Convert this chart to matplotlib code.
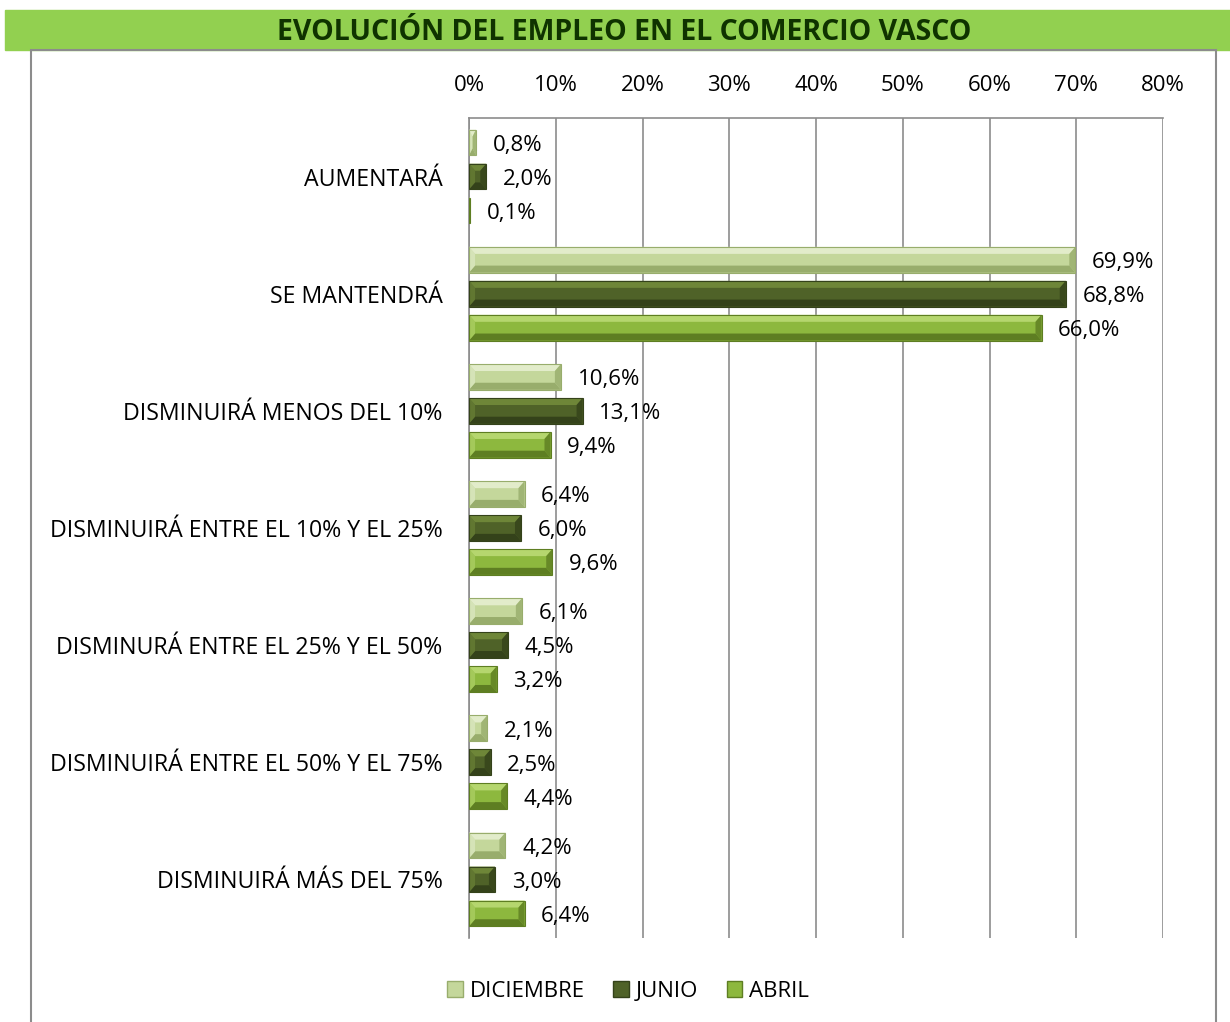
import matplotlib.pyplot as plt
from matplotlib.patches import Rectangle, Polygon
import numpy as np

plt.rcParams['font.family'] = ['Open Sans', 'DejaVu Sans']

categories = ["AUMENTARÁ", "SE MANTENDRÁ", "DISMINUIRÁ MENOS DEL 10%",
              "DISMINUIRÁ ENTRE EL 10% Y EL 25%", "DISMINURÁ ENTRE EL 25% Y EL 50%",
              "DISMINUIRÁ ENTRE EL 50% Y EL 75%", "DISMINUIRÁ MÁS DEL 75%"]
series = ["DICIEMBRE", "JUNIO", "ABRIL"]
diciembre = [0.8, 69.9, 10.6, 6.4, 6.1, 2.1, 4.2]
junio = [2.0, 68.8, 13.1, 6.0, 4.5, 2.5, 3.0]
abril = [0.1, 66.0, 9.4, 9.6, 3.2, 4.4, 6.4]

# face, light (top/left), dark (bottom/right)
colors = {
    "DICIEMBRE": ("#c4d79b", "#e2ecca", "#98ad6c"),
    "JUNIO": ("#4f6228", "#6e8638", "#34421a"),
    "ABRIL": ("#8db83e", "#b5d66e", "#5e7e22"),
}

fig = plt.figure(figsize=(12.3, 10.22), dpi=100)

# title band and outer box
fig.patches.append(Rectangle((5 / 1230, 1 - 50 / 1022), 1225 / 1230, 40 / 1022,
                             transform=fig.transFigure, color="#92d050", zorder=0))
fig.patches.append(Rectangle((31 / 1230, -0.01), (1216 - 31) / 1230, 1 - 50 / 1022 + 0.01,
                             transform=fig.transFigure, fill=False, edgecolor="#8c8c8c",
                             linewidth=1.5, zorder=0))
fig.text(624 / 1230, 1 - 32 / 1022, "EVOLUCIÓN DEL EMPLEO EN EL COMERCIO VASCO",
         ha="center", va="center", fontsize=20.5, fontweight="bold", color="#0f3300")

ax = fig.add_axes([469 / 1230, 1 - 938 / 1022, (1163 - 469) / 1230, (938 - 118) / 1022])

y = np.arange(len(categories))
offsets = [-0.29, 0.0, 0.29]
h = 0.22
bx = 0.7   # bevel width in x units
by = 0.06  # bevel height in y units

for s, vals, off in zip(series, [diciembre, junio, abril], offsets):
    face, light, dark = colors[s]
    for yi, v in zip(y, vals):
        yc = yi + off
        top, bot = yc - h / 2, yc + h / 2  # y axis inverted: top is smaller
        ax.add_patch(Rectangle((0, top), v, h, facecolor=face, edgecolor="none", zorder=3))
        b = min(bx, v / 2)
        # top bevel (light)
        ax.add_patch(Polygon([(0, top), (v, top), (v - b, top + by), (b, top + by)],
                             facecolor=light, edgecolor="none", zorder=4))
        # bottom bevel (dark)
        ax.add_patch(Polygon([(0, bot), (v, bot), (v - b, bot - by), (b, bot - by)],
                             facecolor=dark, edgecolor="none", zorder=4))
        # right bevel (dark)
        ax.add_patch(Polygon([(v, top), (v, bot), (v - b, bot - by), (v - b, top + by)],
                             facecolor=dark, edgecolor="none", alpha=0.8, zorder=4))
        # left bevel (light)
        ax.add_patch(Polygon([(0, top), (0, bot), (b, bot - by), (b, top + by)],
                             facecolor=light, edgecolor="none", alpha=0.6, zorder=4))
        ax.add_patch(Rectangle((0, top), v, h, facecolor="none", edgecolor=dark,
                               linewidth=0.8, zorder=5))
        ax.annotate(f"{v:.1f}%".replace(".", ","), (v, yc), xytext=(12, -2),
                    textcoords="offset points", ha="left", va="center",
                    fontsize=16, color="black", zorder=6)

ax.set_xlim(0, 80)
ax.set_ylim(len(categories) - 0.5, -0.5)
ax.set_xticks(np.arange(0, 81, 10))
ax.set_xticklabels([f"{t}%" for t in range(0, 81, 10)])
ax.xaxis.tick_top()
ax.set_yticks(y)
ax.set_yticklabels(categories)
ax.tick_params(axis="x", length=0, pad=16, labelsize=16)
ax.tick_params(axis="y", length=0, pad=19, labelsize=16.7)
ax.grid(axis="x", color="#8c8c8c", linewidth=1.2, zorder=0)
ax.set_axisbelow(True)
for side in ["bottom", "right"]:
    ax.spines[side].set_visible(False)
ax.spines["left"].set_color("#8c8c8c")
ax.spines["left"].set_linewidth(1.2)
ax.spines["top"].set_color("#8c8c8c")
ax.spines["top"].set_linewidth(1.2)

handles = [Rectangle((0, 0), 1, 1, facecolor=colors[s][0], edgecolor=colors[s][2])
           for s in series]
fig.legend(handles, series, loc="center", bbox_to_anchor=(628 / 1230, 1 - 991 / 1022),
           ncol=3, frameon=False, fontsize=16, handlelength=0.7, handleheight=0.7,
           handletextpad=0.3, columnspacing=1.3)

fig.savefig("out.png", dpi=100)
